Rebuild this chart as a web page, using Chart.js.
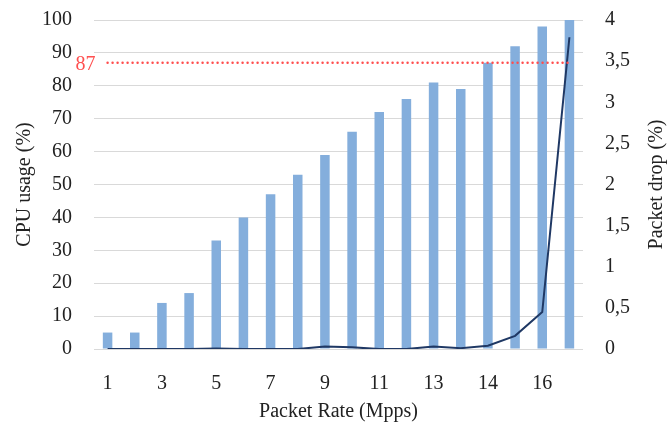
<!DOCTYPE html>
<html>
<head>
<meta charset="utf-8">
<script src="https://cdn.jsdelivr.net/npm/chart.js@4.4.1/dist/chart.umd.min.js"></script>
<style>
  html, body { margin: 0; padding: 0; background: #fff; }
  #wrap { width: 671px; height: 428px; }
</style>
</head>
<body>
<div id="wrap"><canvas id="chart" width="671" height="428"></canvas></div>
<script>
const xLabels = ["1","","3","","5","","7","","9","","11","","13","","14","","16",""];
const cpuUsage = [5, 5, 14, 17, 33, 40, 47, 53, 59, 66, 72, 76, 81, 79, 87, 92, 98, 100];
const packetDrop = [0, 0, 0, 0, 0.005, 0, 0, 0, 0.03, 0.02, 0, 0, 0.03, 0.01, 0.04, 0.16, 0.45, 3.79];
const threshold = 87;
const thresholdLine = xLabels.map(() => threshold);
const rightTitle = "Packet drop (%)";

const FONT = "'Liberation Serif', 'DejaVu Serif', serif";

// red "87" beside the dotted line, and the right axis title read bottom-to-top
const extras = {
  id: "extras",
  afterDatasetsDraw(chart) {
    const c = chart.ctx;
    const y = chart.scales.y.getPixelForValue(threshold);
    const x = chart.scales.x.getPixelForValue(0);
    c.save();
    c.fillStyle = "#ff5050";
    c.font = "20px " + FONT;
    c.textAlign = "right";
    c.textBaseline = "middle";
    c.fillText(String(threshold), x - 12, y + 2);

    const a = chart.chartArea;
    c.translate(657, (a.top + a.bottom) / 2);
    c.rotate(-Math.PI / 2);
    c.fillStyle = "#222";
    c.textAlign = "center";
    c.fillText(rightTitle, 0, 0);
    c.restore();
  }
};

new Chart(document.getElementById("chart"), {
  data: {
    labels: xLabels,
    datasets: [
      {
        type: "line",
        label: "Packet drop",
        data: packetDrop,
        yAxisID: "y1",
        borderColor: "#1f3864",
        borderWidth: 2,
        pointRadius: 0,
        tension: 0,
        order: 1
      },
      {
        type: "line",
        label: "Limit",
        data: thresholdLine,
        yAxisID: "y",
        borderColor: "#ff4d4d",
        borderWidth: 2.5,
        borderDash: [0, 5],
        borderCapStyle: "round",
        pointRadius: 0,
        order: 0
      },
      {
        type: "bar",
        label: "CPU usage",
        data: cpuUsage,
        yAxisID: "y",
        backgroundColor: "#84aedc",
        categoryPercentage: 1,
        barPercentage: 0.35,
        order: 2
      }
    ]
  },
  options: {
    responsive: false,
    animation: false,
    layout: { padding: { top: 20, left: 0, right: 0, bottom: 0 } },
    plugins: { legend: { display: false }, tooltip: { enabled: false } },
    scales: {
      x: {
        grid: { display: false },
        border: { display: false },
        ticks: { autoSkip: false, maxRotation: 0, color: "#222", font: { family: FONT, size: 20 }, padding: 15 },
        title: { display: true, text: "Packet Rate (Mpps)", color: "#222", font: { family: FONT, size: 20 }, padding: { top: 4 } },
        afterFit(s) { s.height = 79; }
      },
      y: {
        position: "left",
        min: 0, max: 100,
        ticks: { stepSize: 10, color: "#222", font: { family: FONT, size: 20 }, padding: 22 },
        grid: { color: "#d9d9d9", lineWidth: 1, drawTicks: false },
        border: { display: false },
        title: { display: true, text: "CPU usage (%)", color: "#222", font: { family: FONT, size: 20 }, padding: { top: 13, bottom: 4 } },
        afterFit(s) { s.width = 94; s.paddingTop = 0; s.paddingBottom = 0; }
      },
      y1: {
        position: "right",
        min: 0, max: 4,
        ticks: {
          stepSize: 0.5, color: "#222", font: { family: FONT, size: 20 }, padding: 22,
          callback: v => String(v).replace(".", ",")
        },
        grid: { display: false, drawTicks: false },
        border: { display: false },
        afterFit(s) { s.width = 88; s.paddingTop = 0; s.paddingBottom = 0; }
      }
    }
  },
  plugins: [extras]
});
</script>
</body>
</html>
